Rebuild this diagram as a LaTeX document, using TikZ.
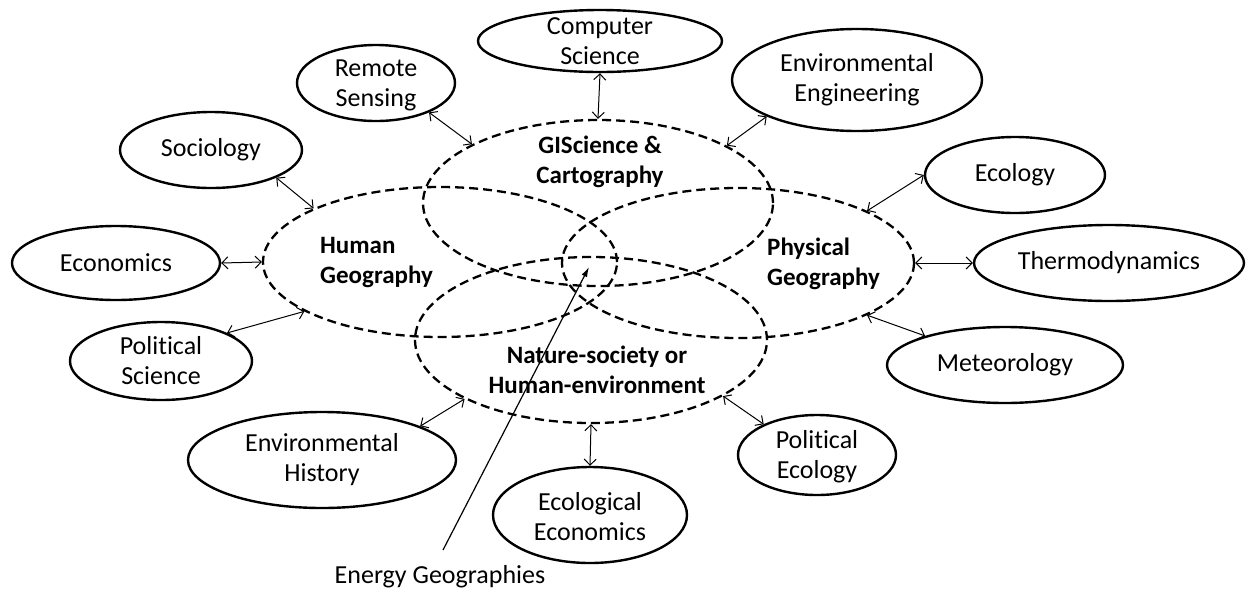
\documentclass[tikz,border=0pt]{standalone}
\usepackage{fontspec}
\setmainfont{Carlito}[Ligatures=NoCommon]
\usetikzlibrary{shapes.geometric,arrows.meta}
\begin{document}
\begin{tikzpicture}[x=1pt,y=-1pt,
  bub/.style={draw, ellipse, line width=2.4pt, inner sep=0pt},
  zone/.style={draw, ellipse, line width=2.3pt, inner sep=0pt, dash pattern=on 9pt off 5pt},
  lbl/.style={font=\fontsize{26}{30}\selectfont, align=center, inner sep=0pt},
  blbl/.style={font=\fontsize{25}{30}\selectfont\bfseries, align=center, inner sep=0pt},
  link/.style={line width=1pt, {Straight Barb[length=6pt,width=12pt]}-{Straight Barb[length=6pt,width=12pt]}},
  pointer/.style={line width=1.2pt, -{Latex[length=10pt,width=6pt]}}]
\useasboundingbox[fill=white] (0,0) rectangle (1248,590);

% dashed fields
\node[zone, minimum width=350pt, minimum height=166pt] (gis) at (598,203) {};
\node[zone, minimum width=354pt, minimum height=150pt] (hum) at (440,262) {};
\node[zone, minimum width=352pt, minimum height=150pt] (phy) at (738,263) {};
\node[zone, minimum width=352pt, minimum height=166pt] (nat) at (591,340) {};

\node[blbl] (gist) at (600,162) {GIScience \&\\Cartography};
\node[blbl, anchor=west, align=left] (humt) at (320,263) {Human\\Geography};
\node[blbl, anchor=west, align=left] (phyt) at (767,264) {Physical\\Geography};
\node[blbl] (natt) at (597,370) {Nature-society or\\Human-environment};

% neighbouring disciplines
\node[bub, minimum width=244pt, minimum height=62pt] (cs) at (600,41) {};
\node[lbl] at (cs) {Computer\\Science};
\node[bub, minimum width=158pt, minimum height=76pt] (rs) at (376,83) {};
\node[lbl] at ([yshift=-2pt]rs.center) {Remote\\Sensing};
\node[bub, minimum width=250pt, minimum height=102pt] (ee) at (857,80) {};
\node[lbl] at (ee) {Environmental\\Engineering};
\node[bub, minimum width=182pt, minimum height=76pt] (soc) at (211,150) {};
\node[lbl] at (soc) {Sociology};
\node[bub, minimum width=208pt, minimum height=74pt] (eco) at (116,263) {};
\node[lbl] at (eco) {Economics};
\node[bub, minimum width=182pt, minimum height=78pt] (pols) at (161,361) {};
\node[lbl] at (pols) {Political\\Science};
\node[bub, minimum width=268pt, minimum height=96pt] (envh) at (322,460) {};
\node[lbl] at (envh) {Environmental\\History};
\node[bub, minimum width=194pt, minimum height=96pt] (ecoe) at (590,515) {};
\node[lbl] at ([yshift=-2pt]ecoe.center) {Ecological\\Economics};
\node[bub, minimum width=158pt, minimum height=80pt] (pole) at (817,455) {};
\node[lbl] at ([yshift=-2pt]pole.center) {Political\\Ecology};
\node[bub, minimum width=236pt, minimum height=76pt] (met) at (1005,365) {};
\node[lbl] at (met) {Meteorology};
\node[bub, minimum width=270pt, minimum height=76pt] (thd) at (1109,263) {};
\node[lbl] at (thd) {Thermodynamics};
\node[bub, minimum width=180pt, minimum height=76pt] (ecl) at (1015,175) {};
\node[lbl] at (ecl) {Ecology};

% connectors
\draw[link] (cs.south) -- (gis.north);
\draw[link] (rs.-29) -- (gis.155);
\draw[link] (ee.-158) -- (gis.24.5);
\draw[link] (soc.-23.6) -- (hum.157.4);
\draw[link] (eco.east) -- (hum.west);
\draw[link] (pols.23.3) -- (hum.-160.8);
\draw[link] (envh.19.2) -- (nat.-155.7);
\draw[link] (ecoe.north) -- (nat.south);
\draw[link] (pole.150) -- (nat.-23);
\draw[link] (ecl.west) -- (phy.22.8);
\draw[link] (phy.east) -- (thd.west);
\draw[link] (phy.-22.4) -- (met.160.6);

% energy geographies
\node[lbl, anchor=base] (eg) at (440,583) {Energy Geographies};
\coordinate (egfoot) at (443,550);
\coordinate (egtip) at (589,267);
\draw[pointer] (egfoot) -- (egtip);
\end{tikzpicture}
\end{document}
